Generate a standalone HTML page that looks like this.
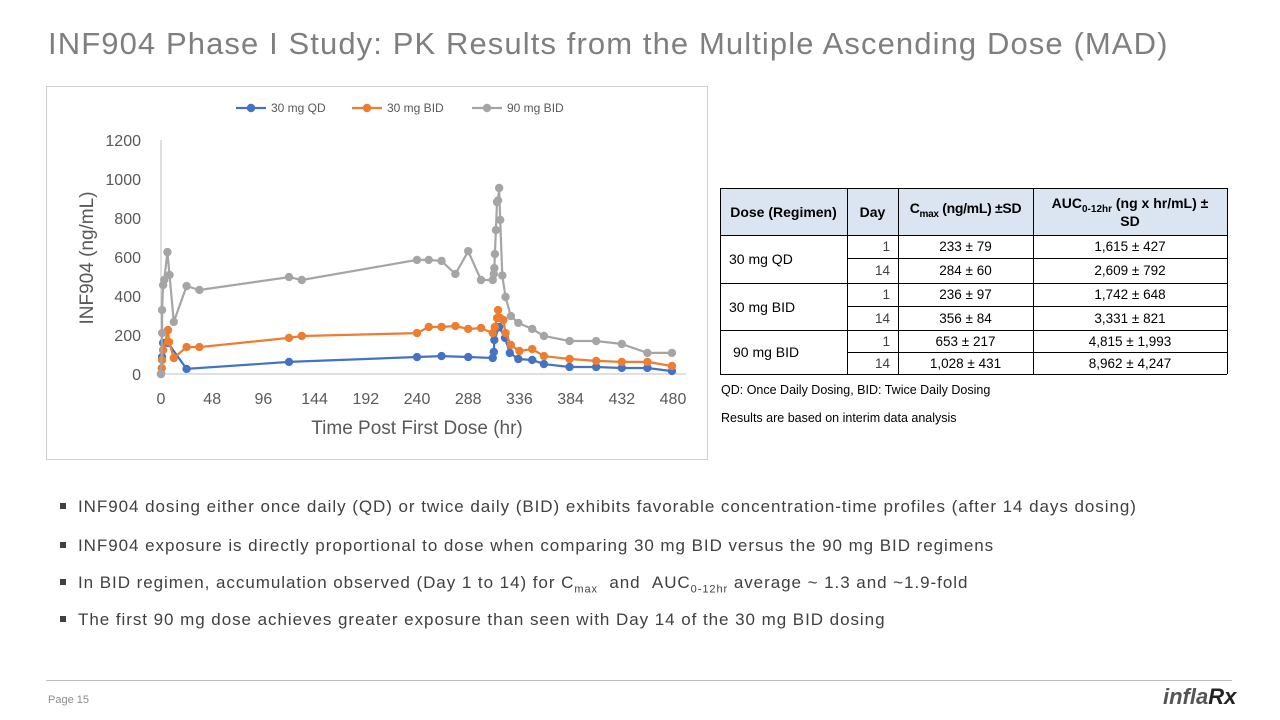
<!DOCTYPE html>
<html><head><meta charset="utf-8">
<style>
body{margin:0;width:1280px;height:720px;background:#fff;position:relative;overflow:hidden;font-family:"Liberation Sans",sans-serif;color:#404040}
.abs{position:absolute}
#title{left:48px;top:26px;font-size:31px;color:#7f7f7f;letter-spacing:1.1px;white-space:nowrap}
#chartbox{left:46px;top:86px;width:662px;height:374px;border:1.5px solid #d0d0d0;box-sizing:border-box}
.cell{position:absolute;font-size:13.5px;display:flex;align-items:center;justify-content:center;box-sizing:border-box}
.hl{position:absolute;background:#000;height:1px}
.vl{position:absolute;background:#000;width:1px}
.note{font-size:12.5px;color:#000;white-space:nowrap}
.bul{font-size:17px;color:#404040;white-space:nowrap;left:60px;letter-spacing:0.95px}
.bul span.sq{display:inline-block;width:6px;height:6px;background:#404040;margin-right:12px;vertical-align:3px}
</style></head><body>
<div id="title" class="abs">INF904 Phase I Study: PK Results from the Multiple Ascending Dose (MAD)</div>
<div id="chartbox" class="abs"></div>
<svg class="abs" style="left:0;top:0" width="720" height="470">
<g id="axes"></g><g id="series"></g><g id="legend"></g>
</svg>

<div class="abs" style="left:720px;top:188px;width:507px;height:47px;background:#dbe5f1"></div>
<div id="tbl"></div>

<div class="abs note" style="left:721px;top:383px">QD: Once Daily Dosing, BID: Twice Daily Dosing</div>
<div class="abs note" style="left:721px;top:411px">Results are based on interim data analysis</div>

<div class="abs bul" style="top:497px"><span class="sq"></span>INF904 dosing either once daily (QD) or twice daily (BID) exhibits favorable concentration-time profiles (after 14 days dosing)</div>
<div class="abs bul" style="top:536px"><span class="sq"></span>INF904 exposure is directly proportional to dose when comparing 30 mg BID versus the 90 mg BID regimens</div>
<div class="abs bul" style="top:573px"><span class="sq"></span>In BID regimen, accumulation observed (Day 1 to 14) for C<sub style="font-size:11px">max</sub> &nbsp;and &nbsp;AUC<sub style="font-size:11px">0-12hr</sub> average ~ 1.3 and ~1.9-fold</div>
<div class="abs bul" style="top:610px"><span class="sq"></span>The first 90 mg dose achieves greater exposure than seen with Day 14 of the 30 mg BID dosing</div>

<div class="abs" style="left:46px;top:680px;width:1186px;height:1px;background:#bfbfbf"></div>
<div class="abs" style="left:48px;top:694px;font-size:11px;color:#8c8c8c">Page 15</div>
<div class="abs" style="left:1163px;top:684px;font-size:22px;font-weight:bold;font-style:italic;color:#555">infla<span style="color:#222">Rx</span></div>

<script>
const xTicks=[0,48,96,144,192,240,288,336,384,432,480];
const yTicks=[0,200,400,600,800,1000,1200];
const seriesNames=["30 mg QD","30 mg BID","90 mg BID"];
const qdT=[0,1,2,6.6,24,120,240,263,288,311,312,312.5,317,322.5,327,335,348,359,383,408,432,456,479];
const qdV=[0,87,159,159,26,62,87,92,87,82,113,174,241,185,108,77,72,51,36,36,31,31,15];
const bidT=[0.7,1,2,6.6,7.5,12,24,36,120,132,240,251,263,276,288,300,311,313,315,316,318,321,323,328,336,348,359,383,408,432,456,479];
const bidV=[30,72,123,225,164,82,138,138,185,195,210,241,241,246,231,236,210,241,287,328,287,277,210,149,118,128,92,77,67,62,62,41];
const hiT=[0,1,1,2,3,6,8,12,24,36,120,132,240,251,263,276,288,300,311,312,312.5,313,314,315,316,317,318,320,323,328,335,348,359,383,408,432,456,479];
const hiV=[0,210,328,456,482,625,508,267,451,431,497,482,585,585,580,513,630,482,482,513,543,615,738,882,890,954,790,505,395,297,262,231,195,169,169,154,108,108];
const colors=["#4472c4","#ed7d31","#a5a5a5"];
const X=t=>161+t*(673-161)/480, Y=v=>374-v*(374-140)/1200;
const NS="http://www.w3.org/2000/svg";
function mk(tag,attrs,parent,txt){const e=document.createElementNS(NS,tag);for(const k in attrs)e.setAttribute(k,attrs[k]);if(txt!==undefined)e.textContent=txt;parent.appendChild(e);return e;}
const ax=document.getElementById('axes');
let l=mk('line',{x1:X(0),y1:Y(0),x2:X(0),y2:Y(1200),stroke:'#bfbfbf','stroke-width':1},ax);


l=mk('line',{x1:X(0),y1:Y(0),x2:686,y2:Y(0),stroke:'#bfbfbf','stroke-width':1},ax);


xTicks.forEach(t=>{const e=mk('text',{x:X(t),y:404,'text-anchor':'middle','font-size':16,fill:'#595959','font-family':'Liberation Sans'},ax,t);

});
yTicks.forEach(v=>{const e=mk('text',{x:141,y:Y(v)+6,'text-anchor':'end','font-size':16,fill:'#595959','font-family':'Liberation Sans'},ax,v);

});
let t=mk('text',{x:417,y:434,'text-anchor':'middle','font-size':19,fill:'#595959','font-family':'Liberation Sans'},ax,'Time Post First Dose (hr)');


t=mk('text',{x:0,y:0,'text-anchor':'middle','font-size':19,fill:'#595959','font-family':'Liberation Sans',transform:'translate(93,258) rotate(-90)'},ax,'INF904 (ng/mL)');


const sg=document.getElementById('series');
[[qdT,qdV],[bidT,bidV],[hiT,hiV]].forEach((s,i)=>{
 const g=mk('g',{},sg);
 
 
 const pts=s[0].map((tt,j)=>X(tt).toFixed(1)+','+Y(s[1][j]).toFixed(1)).join(' ');
 mk('polyline',{points:pts,fill:'none',stroke:colors[i],'stroke-width':2.2},g);
 s[0].forEach((tt,j)=>{const c=mk('circle',{cx:X(tt),cy:Y(s[1][j]),r:4.2,fill:colors[i]},g);
 
 });
});
const lg=document.getElementById('legend');
const lx=[236,352,472];
seriesNames.forEach((n,i)=>{const g=mk('g',{},lg);
 
 
 mk('line',{x1:lx[i],y1:108,x2:lx[i]+30,y2:108,stroke:colors[i],'stroke-width':2.2},g);
 mk('circle',{cx:lx[i]+15,cy:108,r:4.2,fill:colors[i]},g);
 mk('text',{x:lx[i]+35,y:112,'font-size':12,fill:'#595959','font-family':'Liberation Sans'},g,n);
});
const tbl=document.getElementById('tbl');
const cols=[720,847,898,1033,1227];
const rows=[188,235,258,283,306,330,352,374];
function cell(x1,x2,y1,y2,html,extra){const d=document.createElement('div');d.className='cell';
d.style.cssText=`left:${x1}px;top:${y1}px;width:${x2-x1}px;height:${y2-y1}px;`+(extra||'');d.innerHTML=html;


tbl.appendChild(d);}
const hb='font-weight:bold;font-size:14px;color:#000;text-align:center;line-height:18px;';
cell(720,847,188,235,'Dose (Regimen)',hb);
cell(847,898,188,235,'Day',hb);
cell(898,1033,188,235,'<span>C<sub style="font-size:10px">max</sub> (ng/mL) ±SD</span>',hb+'letter-spacing:-0.3px;');
cell(1033,1227,188,235,'<div>AUC<sub style="font-size:10px;line-height:0">0-12hr</sub> (ng x hr/mL) ±<br>SD</div>',hb);
const doses=["30 mg QD","30 mg BID","90 mg BID"];
const days=["1","14","1","14","1","14"];
const cmax=["233 ± 79","284 ± 60","236 ± 97","356 ± 84","653 ± 217","1,028 ± 431"];
const auc=["1,615 ± 427","2,609 ± 792","1,742 ± 648","3,331 ± 821","4,815 ± 1,993","8,962 ± 4,247"];
doses.forEach((d,i)=>cell(720,847,rows[1+2*i],rows[3+2*i],d,'justify-content:flex-start;padding-left:'+(i==2?13:9)+'px;color:#000;font-size:14px'));
for(let i=0;i<6;i++){
 cell(847,898,rows[1+i],rows[2+i],days[i],'justify-content:flex-end;padding-right:8px;color:#404040');
 cell(898,1033,rows[1+i],rows[2+i],cmax[i],'color:#000');
 cell(1033,1227,rows[1+i],rows[2+i],auc[i],'color:#000');
}
function line(cls,x,y,w,h){const d=document.createElement('div');d.className=cls;d.style.left=x+'px';d.style.top=y+'px';
if(w)d.style.width=w+'px';if(h)d.style.height=h+'px';


tbl.appendChild(d);}
[188,235,283,330,374].forEach(y=>line('hl',720,y,507,0));
[258,306,352].forEach(y=>line('hl',847,y,380,0));
cols.forEach((x,i)=>line('vl',x,188,0,186));
</script>
</body></html>
